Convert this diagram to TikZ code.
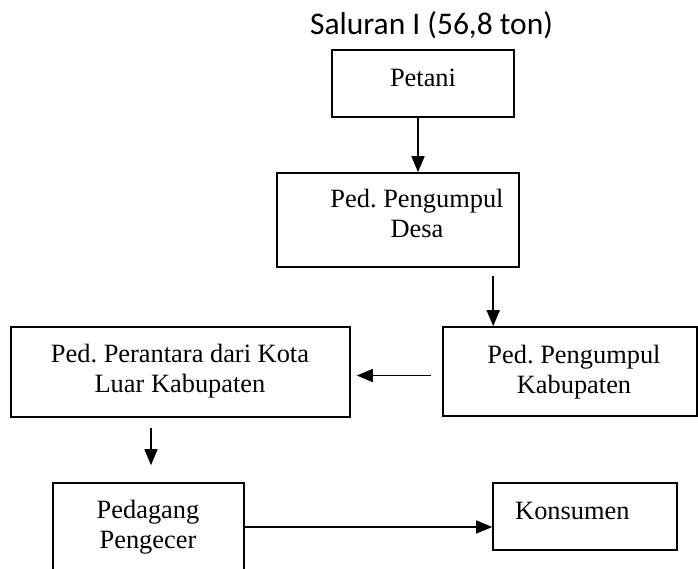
\documentclass[tikz,border=0pt]{standalone}
\usepackage{fontspec}
\setmainfont{Liberation Serif}
\newfontfamily\titlefont{Carlito}
\usetikzlibrary{arrows.meta}
\frenchspacing
\tikzset{
  box/.style={draw, line width=1.6pt, inner sep=0pt},
  lbl/.style={font=\fontsize{26.4}{30}\selectfont, align=center, inner sep=0pt, anchor=base},
  arr/.style={line width=1.6pt, -{Triangle[length=16pt,width=13pt]}}
}
\begin{document}
\begin{tikzpicture}[x=1pt,y=-1pt]
\useasboundingbox (0,0) rectangle (698,569);
\clip (0,0) rectangle (698,569);
\fill[white] (0,0) rectangle (698,569);
% title
\node[font=\titlefont\fontsize{31.5}{36}\selectfont, inner sep=0pt, anchor=base] (title) at (431.5,35) {Saluran I (56,8 ton)};
% boxes
\node[box, minimum width=182pt, minimum height=67pt] (petani) at (423,83.5) {};
\node[box, minimum width=242pt, minimum height=94pt] (desa) at (398,220) {};
\node[box, minimum width=254pt, minimum height=89pt] (kab) at (570,371.5) {};
\node[box, minimum width=339pt, minimum height=90pt] (perantara) at (180.5,372) {};
\node[box, minimum width=191pt, minimum height=117pt] (pedagang) at (148.5,541.5) {};
\node[box, minimum width=184pt, minimum height=67pt] (konsumen) at (585,516.5) {};
% texts (anchor base = last line)
\node[lbl] (petanit) at (423,87) {Petani};
\node[lbl] (desat) at (417,238) {Ped. Pengumpul\\Desa};
\node[lbl] (kabt) at (574,393) {Ped. Pengumpul\\Kabupaten};
\node[lbl] (perantarat) at (180,392) {Ped. Perantara dari Kota\\Luar Kabupaten};
\node[lbl] (pedagangt) at (148,548) {Pedagang\\Pengecer};
\node[lbl, anchor=base west] (konsument) at (515,519) {Konsumen};
% arrows
\draw[arr] ([xshift=-5pt]petani.south) -- ([xshift=-5pt]petani.south |- desa.north);
\draw[arr, shorten <=8pt] ([xshift=51pt]desa.south -| kab.north west) -- ([xshift=51pt]kab.north west);
\draw[arr, shorten <=11pt, shorten >=6pt] ([yshift=-4pt]kab.west) -- ([yshift=-4pt]kab.west -| perantara.east);
\draw[arr, shorten <=10pt, shorten >=17pt] ([xshift=-29.5pt]perantara.south) -- ([xshift=-29.5pt]perantara.south |- pedagang.north);
\draw[arr] (pedagang.east |- konsumen.center) ++(0,10.5) coordinate (pa) (pa) -- (pa -| konsumen.west);
\end{tikzpicture}
\end{document}
